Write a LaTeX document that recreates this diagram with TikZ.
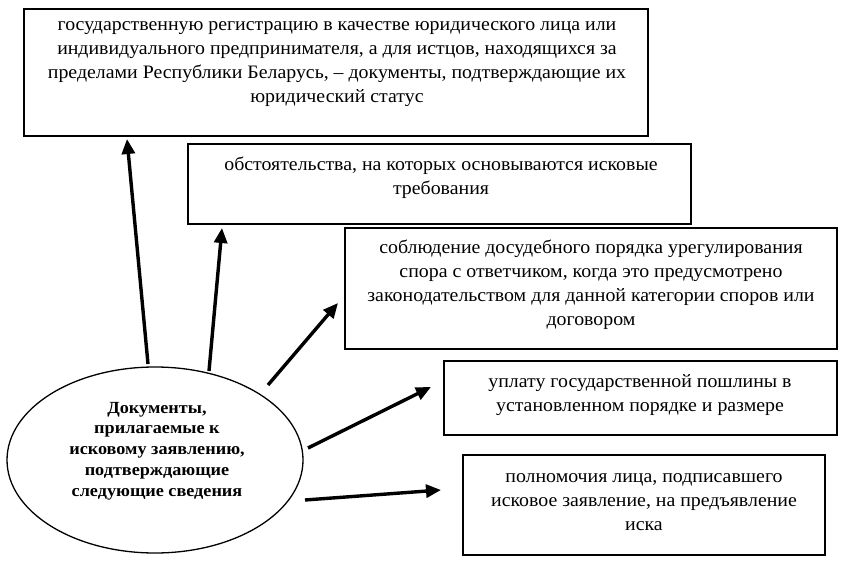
\documentclass[tikz,border=0pt]{standalone}
\usepackage{fontspec}
\setmainfont[FakeStretch=1.045]{Liberation Serif}
\newfontfamily\efont[FakeStretch=1.07]{Liberation Serif}
\usetikzlibrary{arrows.meta,shapes.geometric}
\begin{document}
\begin{tikzpicture}[x=1pt,y=-1pt,
  box/.style={draw=black,line width=1.8pt,fill=white,inner sep=0pt},
  txt/.style={align=center,inner sep=0pt,font=\fontsize{19}{24}\selectfont},
  etxt/.style={align=center,inner sep=0pt,font=\efont\bfseries\fontsize{17}{20.8}\selectfont},
  arr/.style={line width=3.4pt,-{Triangle[length=15pt,width=13pt]}}]
\useasboundingbox[fill=white] (0,0) rectangle (844,578);
% boxes
\node[box,minimum width=624pt,minimum height=127pt] (b1) at (336,72.5) {};
\node[box,minimum width=503pt,minimum height=80pt] (b2) at (439.5,184) {};
\node[box,minimum width=492pt,minimum height=121pt] (b3) at (591,288.5) {};
\node[box,minimum width=393pt,minimum height=74pt] (b4) at (640.5,398) {};
\node[box,minimum width=362pt,minimum height=100pt] (b5) at (644,505) {};
% texts
\node[txt] (t1) at (337,64) {государственную регистрацию в качестве юридического лица или\\индивидуального предпринимателя, а для истцов, находящихся за\\пределами Республики Беларусь, – документы, подтверждающие их\\юридический статус};
\node[txt] (t2) at (441,178) {обстоятельства, на которых основываются исковые\\требования};
\node[txt] (t3) at (591,284.5) {соблюдение досудебного порядка урегулирования\\спора с ответчиком, когда это предусмотрено\\законодательством для данной категории споров или\\договором};
\node[txt] (t4) at (640,395) {уплату государственной пошлины в\\установленном порядке и размере};
\node[txt] (t5) at (644,502) {полномочия лица, подписавшего\\исковое заявление, на предъявление\\иска};
% ellipse
\node[ellipse,draw=black,line width=1.3pt,minimum width=296pt,minimum height=186pt,inner sep=0pt] (e) at (155,460) {};
\node[etxt] (te) at (157,451) {Документы,\\прилагаемые к\\исковому заявлению,\\подтверждающие\\следующие сведения};
% arrow ends
\coordinate (s1) at (148,364);
\coordinate (p1) at (127,139);
\coordinate (s2) at (209,371);
\coordinate (p2) at (222,228);
\coordinate (s3) at (268,385);
\coordinate (p3) at (338,303);
\coordinate (s4) at (308,448);
\coordinate (p4) at (431,387);
\coordinate (s5) at (305,500);
\coordinate (p5) at (441,490);
\draw[arr] (s1) -- (p1);
\draw[arr] (s2) -- (p2);
\draw[arr] (s3) -- (p3);
\draw[arr] (s4) -- (p4);
\draw[arr] (s5) -- (p5);
\end{tikzpicture}
\end{document}
